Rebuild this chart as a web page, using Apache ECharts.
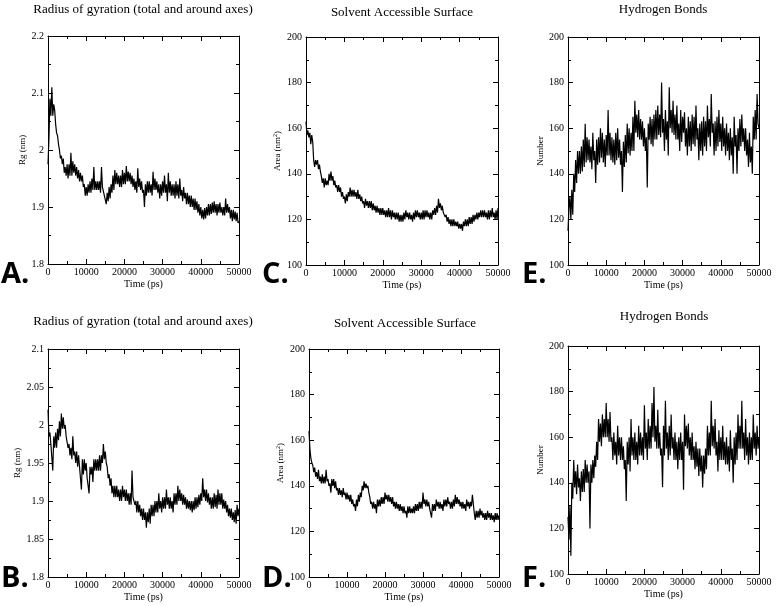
<!DOCTYPE html>
<html><head><meta charset="utf-8">
<script src="https://cdn.jsdelivr.net/npm/echarts@6/dist/echarts.min.js"></script>
<style>html,body{margin:0;padding:0;background:#fff}#c{width:780px;height:606px}</style>
</head><body><div id="c"></div><script>
// sampling step of the traces (ps); samples run from 0 to 50000 ps
const stepPs = 250;
const xTickLabels = ['0','10000','20000','30000','40000','50000'];

// Panel A: radius of gyration (nm)
const rgA = [1.975,2.02,2.09,2.06,2.11,2.06,2.08,2.07,2.045,2.03,2.025,2.01,2.0,1.985,1.99,1.975,1.985,1.96,1.97,1.955,
1.975,1.95,1.975,1.955,1.995,1.955,1.98,1.96,1.975,1.955,1.97,1.95,1.965,1.945,1.96,1.945,1.955,1.935,1.94,1.92,
1.935,1.92,1.94,1.925,1.945,1.925,1.95,1.93,1.97,1.93,1.945,1.93,1.945,1.93,1.945,1.925,1.97,1.935,1.935,1.92,
1.92,1.905,1.925,1.91,1.935,1.915,1.94,1.925,1.955,1.93,1.965,1.94,1.96,1.94,1.955,1.935,1.955,1.935,1.965,1.94,
1.96,1.94,1.972,1.945,1.962,1.945,1.96,1.94,1.955,1.935,1.95,1.93,1.945,1.925,1.968,1.935,1.95,1.93,1.945,1.925,
1.93,1.9,1.94,1.92,1.945,1.925,1.945,1.925,1.94,1.92,1.962,1.93,1.95,1.93,1.945,1.925,1.94,1.915,1.94,1.92,
1.945,1.925,1.955,1.925,1.94,1.91,1.96,1.925,1.945,1.92,1.94,1.92,1.94,1.915,1.945,1.92,1.94,1.915,1.95,1.92,
1.93,1.91,1.935,1.915,1.925,1.905,1.925,1.905,1.92,1.9,1.92,1.9,1.915,1.895,1.915,1.895,1.91,1.89,1.905,1.885,
1.9,1.88,1.895,1.878,1.898,1.88,1.9,1.885,1.905,1.885,1.905,1.888,1.908,1.89,1.91,1.89,1.905,1.885,1.905,1.89,
1.908,1.89,1.9,1.885,1.9,1.885,1.915,1.89,1.905,1.89,1.9,1.88,1.895,1.875,1.895,1.878,1.892,1.875,1.89,1.872,1.875];
// Panel C: solvent accessible surface (nm^2)
const sasC = [163,157,159,156,158,153,157,154,146,143,146,144,146,142,144,141,139,136,138,134,
138,135,137,135,140,137,141,137,139,135,137,134,135,132,135,132,134,130,132,129,
130,127,131,128,132,130,134,130,133,130,133,130,132,129,133,129,131,128,130,127,
128,125,129,126,128,125,128,125,128,124,127,124,126,123,126,123,125,122,125,122,
125,122,124,121,124,121,125,121,124,120,124,121,123,120,123,120,123,119,122,119,
122,119,123,120,124,121,123,120,123,120,122,119,123,120,124,121,124,121,123,120,
123,120,124,120,124,121,124,121,123,120,123,120,124,122,125,122,126,123,129,125,
127,124,126,123,123,121,122,119,121,118,120,117,120,117,120,117,119,117,119,116,
118,116,118,115,119,117,120,117,120,117,121,118,121,118,122,119,122,120,123,120,
123,121,124,121,124,121,124,121,123,120,124,120,124,121,125,121,123,120,124,120,125];
// Panel E: hydrogen bonds (number)
const hbE = [115,125,130,120,133,122,140,132,146,136,150,140,150,140,152,141,155,143,162,145,
156,146,155,145,152,142,158,146,150,136,155,144,156,145,160,147,158,145,155,143,
157,148,168,148,158,146,156,145,155,144,158,146,160,147,155,144,150,132,154,143,
157,145,162,149,160,148,158,150,165,150,172,158,166,156,168,155,164,155,163,152,
160,150,156,134,162,155,165,153,164,152,166,155,168,155,170,157,166,156,180,158,
164,150,168,155,163,148,178,160,168,158,172,157,166,155,170,155,162,150,168,154,
165,158,167,152,160,148,165,152,163,150,166,153,165,152,170,155,160,146,162,150,
163,148,165,152,163,150,170,156,164,152,175,158,162,148,163,150,165,152,168,154,
162,150,165,152,160,148,162,150,158,146,160,148,156,140,165,152,157,140,160,150,
164,152,166,154,160,150,160,148,155,143,158,145,152,140,165,155,168,155,175,162,160];
// Panel B: radius of gyration (nm)
const rgB = [2.02,1.985,1.99,1.975,1.975,1.94,1.985,1.97,1.99,1.97,1.995,1.98,2.005,1.985,2.015,1.995,2.01,1.995,2.0,1.985,
1.985,1.97,1.975,1.96,1.97,1.955,1.985,1.96,1.965,1.95,1.965,1.945,1.96,1.945,1.945,1.915,1.955,1.935,1.955,1.94,
1.95,1.93,1.93,1.91,1.945,1.935,1.945,1.925,1.955,1.94,1.955,1.94,1.955,1.94,1.96,1.94,1.96,1.95,1.975,1.955,
1.965,1.95,1.945,1.93,1.935,1.92,1.93,1.91,1.92,1.905,1.92,1.905,1.92,1.905,1.915,1.9,1.915,1.9,1.92,1.905,
1.915,1.9,1.915,1.9,1.91,1.895,1.91,1.895,1.94,1.905,1.905,1.895,1.9,1.885,1.9,1.885,1.895,1.88,1.89,1.875,
1.89,1.875,1.885,1.865,1.885,1.872,1.89,1.87,1.895,1.88,1.895,1.88,1.9,1.885,1.9,1.885,1.91,1.89,1.9,1.885,
1.905,1.89,1.905,1.89,1.915,1.895,1.905,1.89,1.905,1.89,1.9,1.885,1.91,1.895,1.91,1.895,1.92,1.9,1.915,1.9,
1.91,1.895,1.908,1.895,1.905,1.89,1.902,1.89,1.9,1.888,1.9,1.885,1.9,1.888,1.905,1.89,1.905,1.892,1.908,1.895,
1.91,1.9,1.93,1.905,1.915,1.9,1.915,1.898,1.91,1.895,1.905,1.89,1.905,1.89,1.91,1.892,1.908,1.89,1.915,1.895,
1.91,1.895,1.91,1.89,1.902,1.89,1.9,1.885,1.895,1.88,1.89,1.878,1.89,1.875,1.885,1.872,1.888,1.87,1.895,1.88,1.89];
// Panel D: solvent accessible surface (nm^2)
const sasD = [164,156,152,150,149,146,148,144,146,143,147,142,144,141,145,141,144,141,147,142,
143,140,141,137,143,140,143,139,142,138,139,136,139,136,138,135,139,136,137,134,
137,134,136,133,136,132,134,131,132,129,134,131,136,133,137,135,140,138,142,139,
141,139,140,137,135,132,133,130,133,130,132,128,134,131,134,131,135,132,135,132,
137,134,136,133,136,133,135,132,135,131,133,130,133,130,132,129,132,129,131,128,
131,128,129,126,131,128,131,128,130,128,131,128,132,129,132,129,133,130,133,130,
137,132,134,131,134,131,133,130,130,126,132,129,132,129,134,131,133,130,133,130,
132,129,134,131,134,131,135,132,133,130,133,130,134,131,136,132,135,132,134,131,
133,130,133,130,132,129,134,131,133,130,133,131,136,132,128,125,129,126,129,126,
130,127,129,126,128,125,128,125,129,126,128,125,128,125,127,124,128,125,128,125,127];
// Panel F: hydrogen bonds (number)
const hbF = [125,115,130,108,140,133,150,138,145,135,148,138,142,132,145,136,146,136,150,140,
148,140,145,120,148,140,150,142,152,147,158,150,168,158,166,156,170,160,168,160,
175,160,168,158,171,158,160,150,162,152,158,148,165,152,160,150,160,150,156,146,
150,132,158,148,160,145,168,152,160,150,162,150,158,148,165,152,162,152,160,150,
174,155,162,150,168,155,165,155,175,160,182,158,165,155,172,155,162,152,155,138,
165,152,176,155,162,150,165,152,170,155,160,150,162,150,158,146,160,150,162,150,
158,137,170,156,165,155,166,152,160,150,162,150,156,146,158,147,155,143,155,145,
152,138,152,144,155,146,165,152,162,152,176,156,165,155,168,152,158,145,163,150,
160,150,165,150,158,148,160,148,156,145,163,150,155,140,160,148,162,150,170,155,
165,155,176,155,162,150,168,152,160,148,162,150,160,150,170,155,162,152,165,155,160];

const titles = ['Radius of gyration (total and around axes)','Solvent Accessible Surface','Hydrogen Bonds',
                'Radius of gyration (total and around axes)','Solvent Accessible Surface','Hydrogen Bonds'];
const letters = ['A.','C.','E.','B.','D.','F.'];
const yNames = ['Rg (nm)','Area (nm{sup|2})','Number','Rg (nm)','Area (nm{sup|2})','Number'];
const xName = 'Time (ps)';
const series = [rgA, sasC, hbE, rgB, sasD, hbF];
const yRanges = [[1.8,2.2,0.1],[100,200,20],[100,200,20],[1.8,2.1,0.05],[100,200,20],[100,200,20]];

// layout
const grids = [
  {left:48,top:36,width:191,height:228},
  {left:306,top:37,width:192,height:228},
  {left:568,top:37,width:191,height:228},
  {left:48,top:349,width:191,height:228},
  {left:309,top:349,width:190,height:228},
  {left:568,top:346,width:191,height:228}
];
const yNameGap = [19,22,22,23,22,22];
const titlePos = [[143,3],[402,6],[663,3],[143,315],[405,317],[664,310]];
const letterPos = [[1,260],[262,260],[522,260],[1,564],[262,564],[522,564]];

const serif = '"Liberation Serif","DejaVu Serif",serif';
const tickCommon = {axisTick:{inside:true,length:5,lineStyle:{color:'#000'}},
  minorTick:{show:true,splitNumber:2,length:3,lineStyle:{color:'#000'}},
  axisLine:{show:true,onZero:false,lineStyle:{color:'#000',width:1}},
  splitLine:{show:false}};

const xAxes=[], yAxes=[], ser=[], graphics=[];
grids.forEach((g,i)=>{
  const [ymin,ymax,yint]=yRanges[i];
  xAxes.push(Object.assign({type:'value',gridIndex:i,min:0,max:50000,interval:10000,position:'bottom',
    name:xName,nameLocation:'middle',nameGap:15,nameTextStyle:{fontFamily:serif,fontSize:10,color:'#000'},
    axisLabel:{fontFamily:serif,fontSize:10,color:'#000',margin:3,
      formatter:(v)=>xTickLabels[Math.round(v/10000)]}},tickCommon));
  xAxes.push(Object.assign({type:'value',gridIndex:i,min:0,max:50000,interval:10000,position:'top',
    axisLabel:{show:false}},tickCommon));
  yAxes.push(Object.assign({type:'value',gridIndex:i,min:ymin,max:ymax,interval:yint,position:'left',
    name:yNames[i],nameLocation:'middle',nameGap:yNameGap[i],
    nameTextStyle:{fontFamily:serif,fontSize:9,color:'#000',rich:{sup:{fontFamily:serif,fontSize:6,verticalAlign:'top',padding:[0,0,6,0]}}},
    axisLabel:{fontFamily:serif,fontSize:10,color:'#000',margin:4}},tickCommon));
  yAxes.push(Object.assign({type:'value',gridIndex:i,min:ymin,max:ymax,interval:yint,position:'right',
    axisLabel:{show:false}},tickCommon));
  ser.push({type:'line',xAxisIndex:2*i,yAxisIndex:2*i,showSymbol:false,animation:false,
    lineStyle:{color:'#000',width:1.2},
    data:series[i].map((v,k)=>[k*stepPs,v])});
  graphics.push({type:'text',x:titlePos[i][0],y:titlePos[i][1],
    style:{text:titles[i],font:'13px '+serif,fill:'#000',align:'center',verticalAlign:'top',textAlign:'center',textVerticalAlign:'top'}});
  graphics.push({type:'text',x:letterPos[i][0],y:letterPos[i][1],
    style:{text:letters[i],font:'bold 29px "Open Sans","DejaVu Sans",sans-serif',fill:'#000'}});
});

const chart = echarts.init(document.getElementById('c'),null,{renderer:'canvas'});
chart.setOption({backgroundColor:'#fff',animation:false,grid:grids.map(g=>Object.assign({containLabel:false},g)),
  xAxis:xAxes,yAxis:yAxes,series:ser,graphic:graphics});
</script></body></html>
